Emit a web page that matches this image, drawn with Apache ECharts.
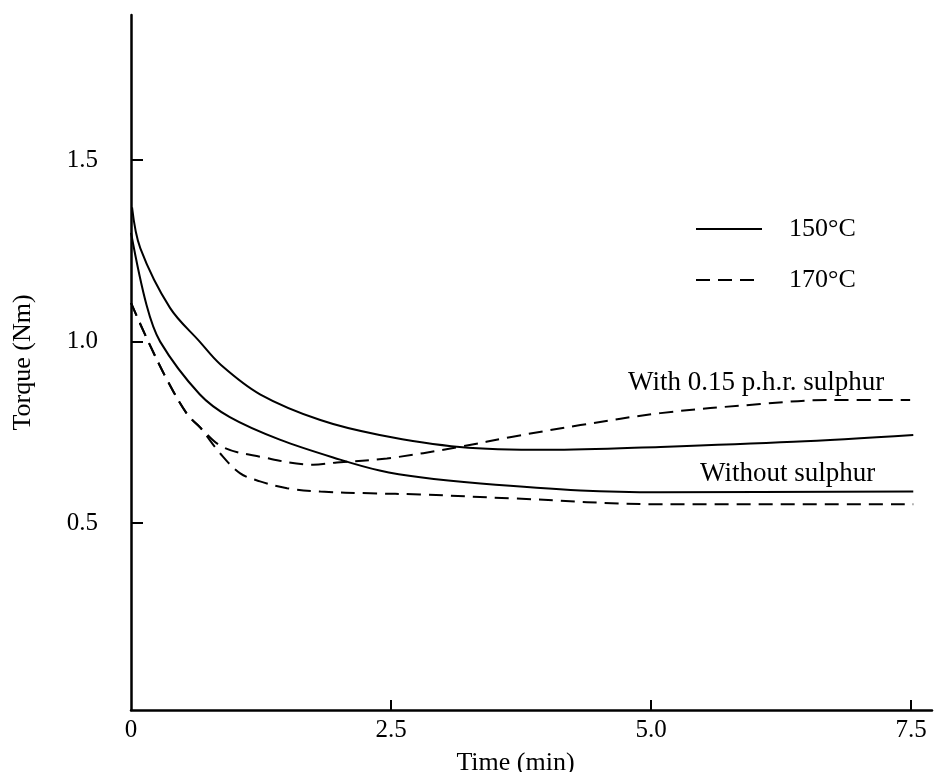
<!DOCTYPE html>
<html>
<head>
<meta charset="utf-8">
<script src="https://cdn.jsdelivr.net/npm/echarts@6/dist/echarts.min.js"></script>
<style>
  html, body { margin: 0; padding: 0; background: #fff; }
  #chart { width: 950px; height: 772px; }
</style>
</head>
<body>
<div id="chart"></div>
<script>
// torque vs time
var withS150 = [
  [0.01, 1.37], [0.09, 1.257], [0.375, 1.093], [0.66, 1.0], [0.86, 0.937],
  [1.24, 0.855], [1.82, 0.784], [2.39, 0.743], [3.16, 0.710], [4.00, 0.702],
  [5.09, 0.710], [6.37, 0.724], [7.52, 0.743]
];
var withoutS150 = [
  [0.0, 1.30], [0.15, 1.10], [0.28, 1.0], [0.66, 0.855],
  [0.95, 0.792], [1.43, 0.730], [2.01, 0.675], [2.39, 0.645], [2.78, 0.626],
  [3.36, 0.609], [4.32, 0.590], [5.09, 0.585], [7.52, 0.587]
];
var withS170 = [
  [0.0, 1.107], [0.15, 1.01], [0.35, 0.893], [0.54, 0.80], [0.66, 0.765],
  [0.88, 0.71], [1.24, 0.683], [1.75, 0.661], [1.98, 0.667], [2.46, 0.678],
  [3.16, 0.710], [3.67, 0.738], [4.32, 0.770], [5.09, 0.803], [6.05, 0.828],
  [6.69, 0.839], [7.49, 0.839]
];
var withoutS170 = [
  [0.0, 1.107], [0.15, 1.01], [0.35, 0.893], [0.54, 0.80], [0.66, 0.765],
  [0.86, 0.691], [1.05, 0.637], [1.24, 0.615], [1.5, 0.596], [1.82, 0.587],
  [2.30, 0.582], [2.78, 0.579], [3.67, 0.568], [5.09, 0.552], [7.52, 0.552]
];

var xTicks = [0, 2.5, 5.0, 7.5];
var xTickLabels = ['0', '2.5', '5.0', '7.5'];
var yTicks = [0.5, 1.0, 1.5];
var yTickLabels = ['0.5', '1.0', '1.5'];

var FONT = '"Liberation Serif", "Times New Roman", serif';

function lineSeries(name, data, dashed) {
  return {
    name: name,
    type: 'line',
    data: data,
    smooth: 0.35,
    symbol: 'none',
    silent: true,
    color: '#000',
    lineStyle: {
      color: '#000',
      width: 2,
      type: dashed ? [14, 8] : 'solid'
    }
  };
}

var chart = echarts.init(document.getElementById('chart'));
chart.setOption({
  backgroundColor: '#fff',
  animation: false,
  grid: { left: 131, right: 18, top: 15, bottom: 62, outerBoundsMode: 'none' },
  legend: {
    data: ['150°C', '170°C'],
    orient: 'vertical',
    left: 690,
    top: 211,
    itemWidth: 66,
    itemHeight: 26,
    itemGap: 25,
    selectedMode: false,
    itemStyle: { opacity: 0 },
    textStyle: { fontFamily: FONT, fontSize: 26, color: '#000', lineHeight: 26, padding: [0, 0, 0, 22] }
  },
  xAxis: {
    type: 'value',
    min: 0,
    max: 7.7,
    name: 'Time (min)',
    nameLocation: 'middle',
    nameGap: 40,
    nameTextStyle: { fontFamily: FONT, fontSize: 26, color: '#000', padding: [0, 32, 0, 0] },
    axisLine: { onZero: false, lineStyle: { color: '#000', width: 2.5 } },
    axisTick: { inside: true, length: 10, customValues: xTicks.slice(1), lineStyle: { color: '#000', width: 2 } },
    axisLabel: {
      customValues: xTicks,
      margin: 8,
      fontFamily: FONT, fontSize: 25, color: '#000',
      formatter: function (v) { return xTickLabels[xTicks.indexOf(v)]; }
    },
    splitLine: { show: false }
  },
  yAxis: {
    type: 'value',
    min: -0.015,
    max: 1.9,
    name: 'Torque (Nm)',
    nameLocation: 'middle',
    nameGap: 95,
    nameRotate: 90,
    nameTextStyle: { fontFamily: FONT, fontSize: 26, color: '#000' },
    axisLine: { onZero: false, lineStyle: { color: '#000', width: 2.5 } },
    axisTick: { inside: true, length: 12, customValues: yTicks, lineStyle: { color: '#000', width: 2 } },
    axisLabel: {
      customValues: yTicks,
      margin: 33,
      fontFamily: FONT, fontSize: 25, color: '#000',
      formatter: function (v) { return yTickLabels[yTicks.indexOf(v)]; }
    },
    splitLine: { show: false }
  },
  graphic: [
    { type: 'text', left: 628, top: 369, style: { text: 'With 0.15 p.h.r. sulphur', font: '27px ' + FONT, fill: '#000' } },
    { type: 'text', left: 700, top: 460, style: { text: 'Without sulphur', font: '27px ' + FONT, fill: '#000' } }
  ],
  series: [
    lineSeries('150°C', withS150, false),
    lineSeries('150°C', withoutS150, false),
    lineSeries('170°C', withS170, true),
    lineSeries('170°C', withoutS170, true)
  ]
});
</script>
</body>
</html>
